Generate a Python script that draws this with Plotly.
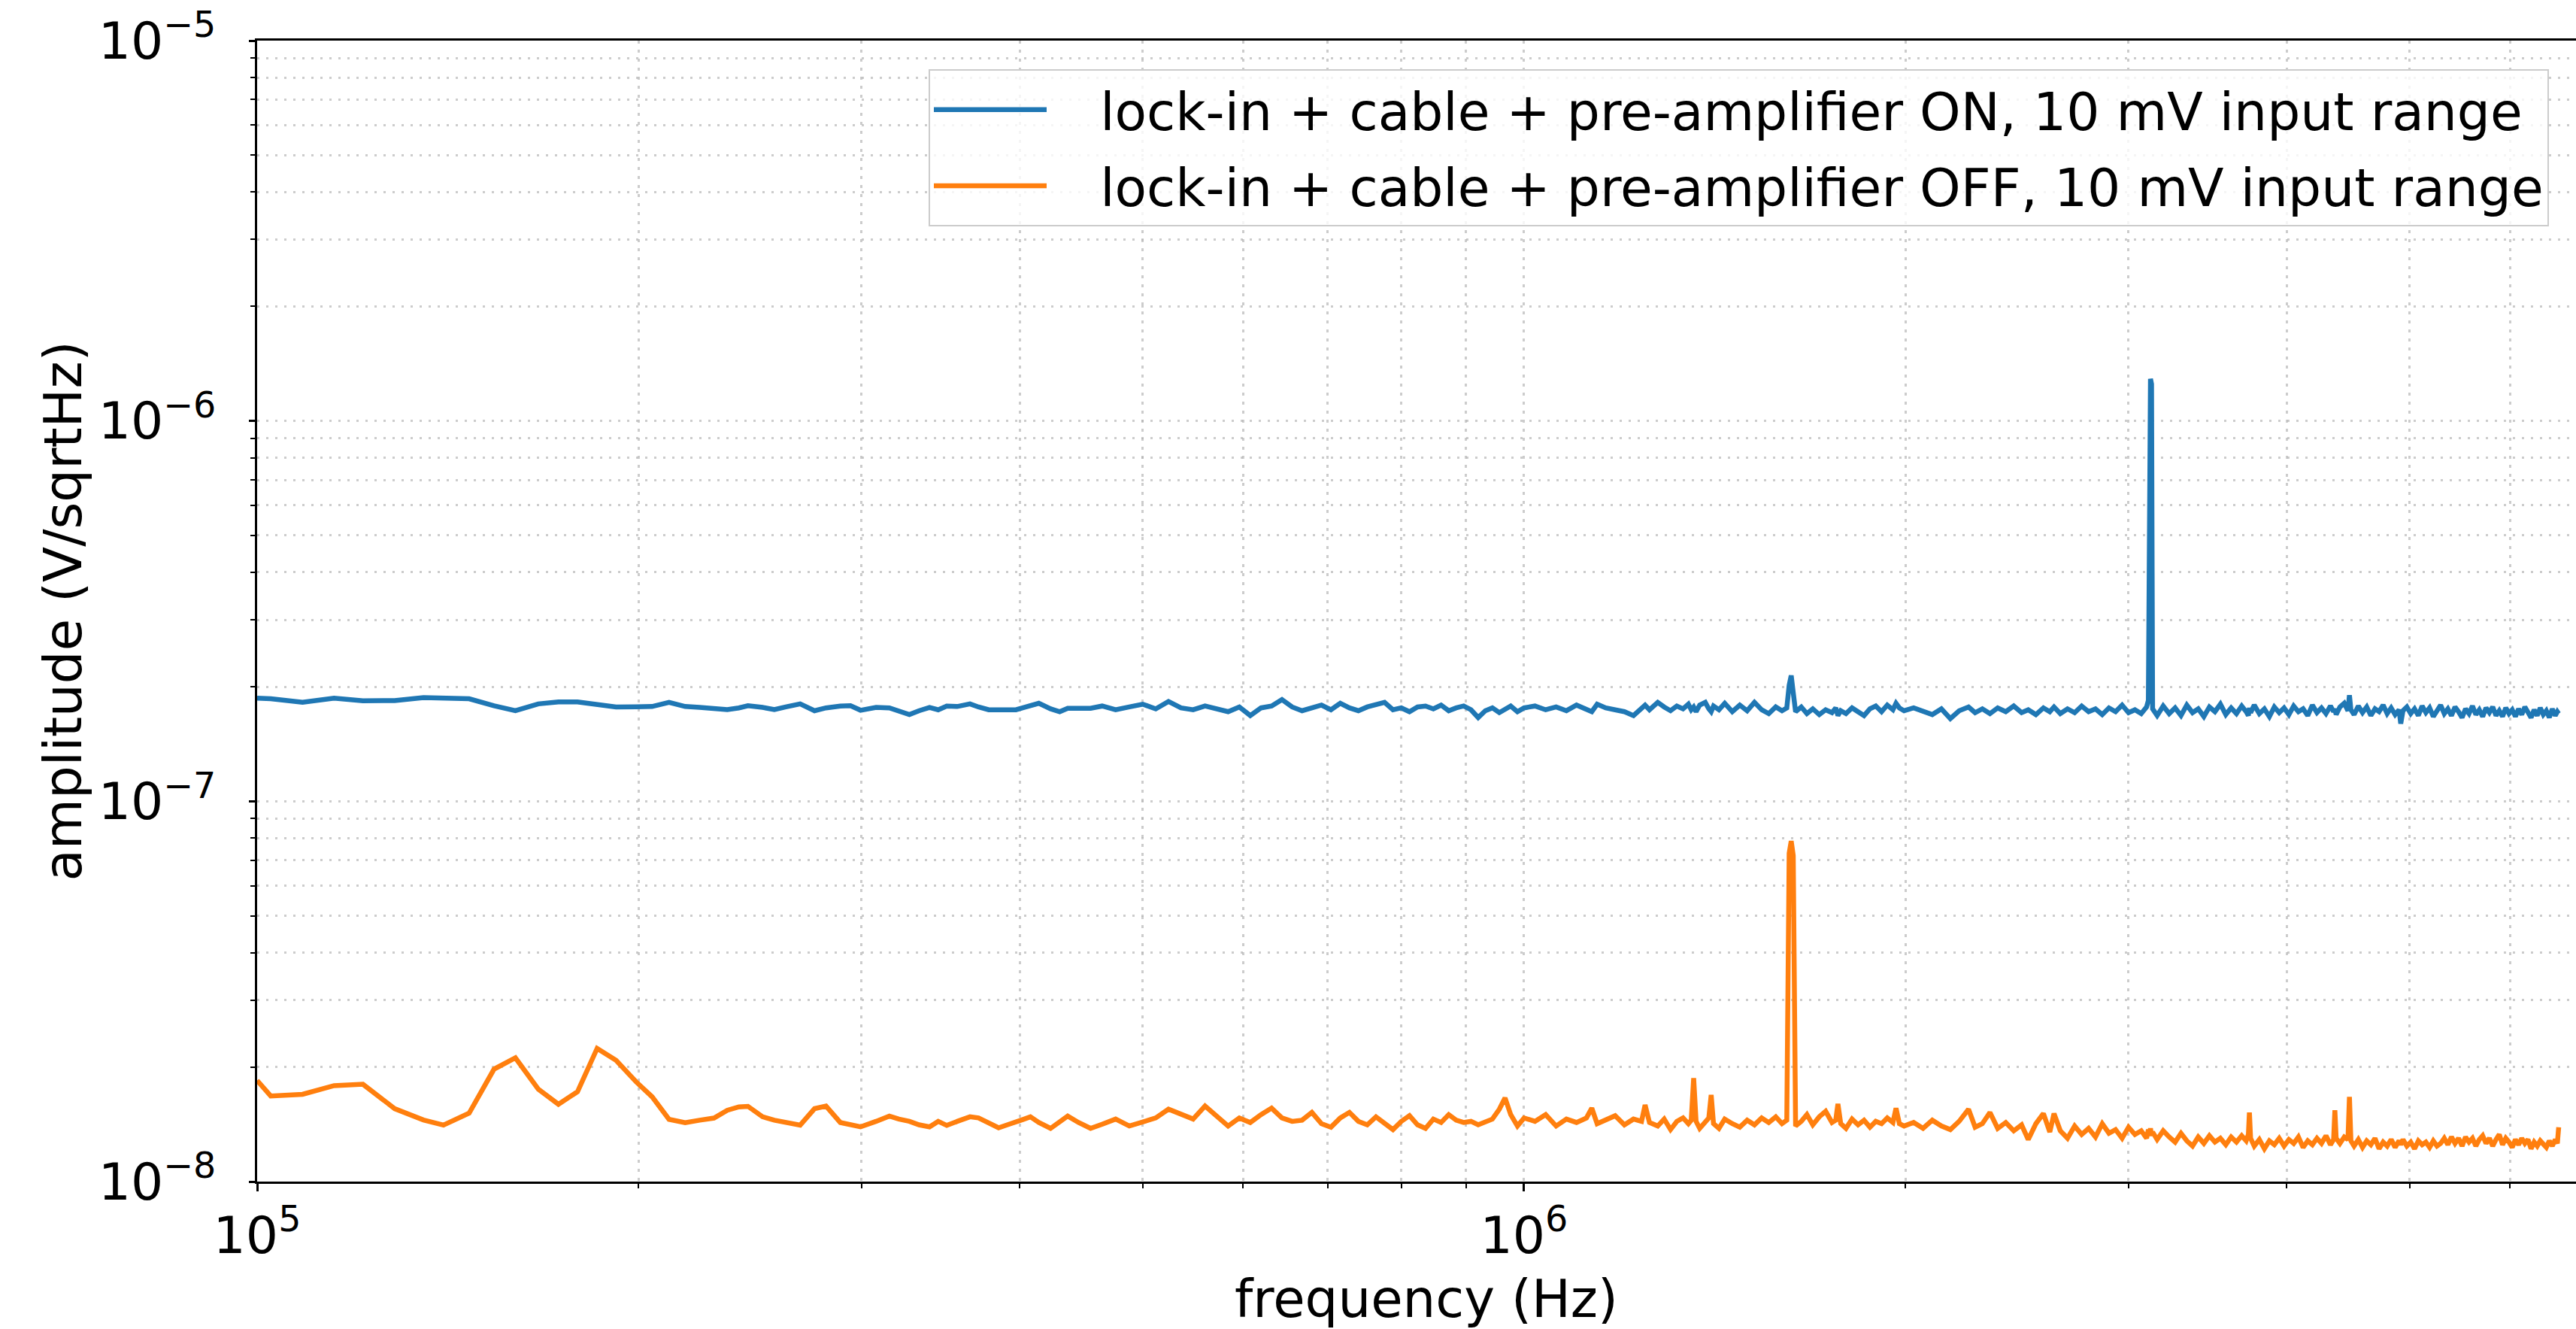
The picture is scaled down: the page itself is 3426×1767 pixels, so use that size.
import plotly.graph_objects as go

# ---------------- data (frequency in kHz, amplitude in units shown) ----------------
AMP_ON_UNIT = 1e-7   # ON series values below are in units of 1e-7 V/sqrtHz
AMP_OFF_UNIT = 1e-8  # OFF series values below are in units of 1e-8 V/sqrtHz

freq_low = [100, 102.5, 108.6, 115, 121.2, 128.4, 135.3, 140.3, 147, 153.8,
            159.9, 166.7, 172.9, 179, 185.5, 192, 199.1, 205, 211.4, 217.7,
            223.5, 229.4, 235, 240, 244, 250.6, 256, 261.4, 268.3, 275.4,
            281.2, 288.6, 294, 299.4, 308, 315.5, 321, 327.2, 333, 339.4,
            344.8, 350.2, 357, 365.3, 371, 378, 384.8, 391, 397.1, 402,
            407.7, 414, 422.9, 430, 436.3, 445, 454.8, 464.5]
on_low = [1.867, 1.86, 1.82, 1.867, 1.838, 1.84, 1.873, 1.865, 1.86, 1.783,
          1.73, 1.803, 1.824, 1.824, 1.80, 1.77, 1.772, 1.775, 1.82, 1.775,
          1.765, 1.755, 1.742, 1.76, 1.783, 1.765, 1.742, 1.77, 1.803, 1.73,
          1.76, 1.78, 1.783, 1.735, 1.765, 1.76, 1.73, 1.69, 1.73, 1.765,
          1.74, 1.78, 1.775, 1.803, 1.77, 1.74, 1.74, 1.74, 1.74, 1.76,
          1.79, 1.81, 1.75, 1.72, 1.755, 1.755, 1.755, 1.78]
off_low = [1.844, 1.679, 1.696, 1.788, 1.803, 1.555, 1.452, 1.408, 1.513, 1.975,
           2.115, 1.75, 1.597, 1.723, 2.24, 2.083, 1.83, 1.671, 1.458, 1.429,
           1.45, 1.469, 1.54, 1.572, 1.577, 1.48, 1.45, 1.43, 1.408, 1.555,
           1.58, 1.43, 1.41, 1.393, 1.44, 1.487, 1.46, 1.44, 1.41, 1.393,
           1.44, 1.405, 1.44, 1.48, 1.47, 1.42, 1.385, 1.41, 1.43, 1.455,
           1.48, 1.43, 1.38, 1.43, 1.487, 1.43, 1.38, 1.415]

freq_mid1 = [476, 488, 500, 512, 524, 536, 548, 560, 572, 584,
             596, 608, 620, 632, 644, 656, 668, 680, 692, 704,
             716, 728, 740, 752, 764, 776, 788, 800, 812, 824,
             836, 848, 860, 872, 884, 896, 908, 920, 932, 944,
             956, 966, 976, 988, 1000]
on_mid1 = [1.74, 1.77, 1.80, 1.75, 1.83, 1.76, 1.74, 1.78, 1.75, 1.72,
           1.77, 1.68, 1.76, 1.78, 1.85, 1.77, 1.73, 1.76, 1.79, 1.74,
           1.81, 1.76, 1.73, 1.77, 1.79, 1.82, 1.74, 1.76, 1.72, 1.77,
           1.78, 1.75, 1.79, 1.73, 1.76, 1.78, 1.74, 1.66, 1.73, 1.76,
           1.71, 1.75, 1.78, 1.72, 1.76]
off_mid1 = [1.46, 1.40, 1.44, 1.47, 1.55, 1.50, 1.46, 1.58, 1.48, 1.40,
            1.47, 1.43, 1.50, 1.56, 1.47, 1.44, 1.45, 1.52, 1.42, 1.39,
            1.47, 1.52, 1.44, 1.41, 1.48, 1.42, 1.37, 1.44, 1.49, 1.41,
            1.38, 1.46, 1.43, 1.50, 1.45, 1.43, 1.44, 1.41, 1.43, 1.46,
            1.55, 1.66, 1.50, 1.40, 1.47]

freq_mid2 = [1020, 1040, 1060, 1080, 1100, 1120, 1131, 1142, 1160, 1180,
             1200, 1220, 1238, 1246, 1256, 1275, 1290, 1305, 1320, 1335,
             1348, 1355, 1361, 1367, 1376, 1390, 1399, 1405, 1411, 1425,
             1440, 1460, 1480, 1500, 1520, 1540, 1560, 1580, 1598, 1612,
             1619, 1625, 1631, 1638, 1655, 1672, 1690, 1710, 1730, 1750,
             1762, 1769, 1778, 1795, 1815, 1835, 1855, 1875, 1895, 1915,
             1935, 1955, 1966, 1978, 1995]
on_mid2 = [1.78, 1.74, 1.77, 1.73, 1.79, 1.75, 1.72, 1.80, 1.76, 1.74,
           1.72, 1.68, 1.76, 1.79, 1.74, 1.82, 1.77, 1.73, 1.78, 1.75,
           1.80, 1.74, 1.77, 1.72, 1.79, 1.82, 1.75, 1.72, 1.78, 1.74,
           1.81, 1.72, 1.79, 1.73, 1.82, 1.74, 1.70, 1.77, 1.73, 1.76,
           2.02, 2.14, 1.93, 1.72, 1.77, 1.70, 1.75, 1.69, 1.74, 1.71,
           1.76, 1.68, 1.73, 1.70, 1.76, 1.72, 1.68, 1.75, 1.78, 1.72,
           1.79, 1.74, 1.81, 1.76, 1.73]
off_mid2 = [1.44, 1.50, 1.40, 1.46, 1.43, 1.47, 1.56, 1.42, 1.45, 1.49,
            1.41, 1.46, 1.44, 1.59, 1.43, 1.40, 1.46, 1.37, 1.44, 1.47,
            1.42, 1.45, 1.87, 1.44, 1.38, 1.43, 1.47, 1.69, 1.42, 1.38,
            1.46, 1.42, 1.39, 1.45, 1.41, 1.47, 1.43, 1.48, 1.42, 1.45,
            7.3, 7.86, 7.2, 1.40, 1.44, 1.50, 1.41, 1.48, 1.53, 1.43,
            1.45, 1.60, 1.42, 1.38, 1.46, 1.41, 1.45, 1.39, 1.44, 1.42,
            1.47, 1.43, 1.56, 1.42, 1.40]

freq_high = [2030, 2065, 2100, 2135, 2170, 2205, 2243, 2270, 2300, 2332,
             2365, 2400, 2435, 2470, 2500, 2535, 2570, 2600, 2620, 2650,
             2685, 2720, 2755, 2790, 2825, 2860, 2895, 2930, 2965, 3000,
             3035, 3070, 3100, 3110, 3116, 3122, 3128, 3134, 3160, 3195,
             3230, 3265, 3300, 3335, 3370, 3405, 3440, 3475, 3510, 3545,
             3580, 3615, 3650, 3685, 3715, 3730, 3737, 3745, 3770, 3805,
             3840, 3875, 3910, 3945, 3980, 4015, 4050, 4085, 4120, 4155,
             4190, 4225, 4260, 4295, 4330, 4355, 4365, 4375, 4405, 4440,
             4470, 4482, 4494, 4520, 4555, 4590, 4625, 4660, 4695, 4730,
             4765, 4800, 4835, 4870, 4905, 4920, 4940, 4975, 5010, 5045,
             5080, 5115, 5150, 5185, 5220, 5255, 5290, 5325, 5360, 5395,
             5430, 5465, 5500, 5535, 5570, 5605, 5640, 5675, 5710, 5745,
             5780, 5815, 5850, 5885, 5920, 5955, 5990, 6025, 6060, 6095,
             6130, 6165, 6200, 6235, 6270, 6305, 6340, 6375, 6410, 6445,
             6480, 6515, 6540, 6556]
on_high = [1.76, 1.72, 1.69, 1.75, 1.65, 1.73, 1.77, 1.71, 1.75, 1.70,
           1.76, 1.72, 1.78, 1.71, 1.74, 1.69, 1.76, 1.72, 1.77, 1.70,
           1.75, 1.71, 1.78, 1.72, 1.75, 1.69, 1.76, 1.72, 1.79, 1.71,
           1.74, 1.70, 1.77, 1.84, 12.6, 12.9, 12.5, 1.75, 1.68, 1.78,
           1.70, 1.76, 1.68, 1.79, 1.71, 1.75, 1.67, 1.77, 1.72, 1.80,
           1.69, 1.76, 1.70, 1.78, 1.72, 1.68, 1.76, 1.71, 1.79, 1.70,
           1.75, 1.67, 1.77, 1.71, 1.76, 1.69, 1.78, 1.72, 1.75, 1.68,
           1.79, 1.71, 1.76, 1.70, 1.78, 1.72, 1.75, 1.69, 1.77, 1.81,
           1.73, 1.90, 1.74, 1.69, 1.78, 1.71, 1.77, 1.68, 1.75, 1.72,
           1.79, 1.70, 1.76, 1.69, 1.74, 1.60, 1.73, 1.77, 1.70, 1.75,
           1.68, 1.78, 1.71, 1.76, 1.67, 1.74, 1.79, 1.70, 1.75, 1.68,
           1.77, 1.72, 1.66, 1.75, 1.70, 1.78, 1.69, 1.74, 1.67, 1.76,
           1.71, 1.77, 1.68, 1.73, 1.67, 1.76, 1.70, 1.74, 1.67, 1.75,
           1.69, 1.77, 1.70, 1.66, 1.74, 1.68, 1.76, 1.69, 1.73, 1.66,
           1.75, 1.68, 1.72, 1.70]
off_high = [1.43, 1.38, 1.45, 1.40, 1.37, 1.44, 1.55, 1.39, 1.42, 1.52,
            1.38, 1.43, 1.36, 1.41, 1.29, 1.42, 1.51, 1.35, 1.51, 1.36,
            1.30, 1.40, 1.33, 1.38, 1.31, 1.42, 1.34, 1.37, 1.30, 1.39,
            1.33, 1.36, 1.30, 1.37, 1.33, 1.38, 1.32, 1.35, 1.29, 1.36,
            1.31, 1.27, 1.34, 1.28, 1.24, 1.31, 1.26, 1.32, 1.27, 1.30,
            1.25, 1.31, 1.27, 1.32, 1.28, 1.33, 1.52, 1.30, 1.24, 1.29,
            1.22, 1.28, 1.25, 1.30, 1.24, 1.29, 1.26, 1.31, 1.23, 1.28,
            1.25, 1.30, 1.26, 1.32, 1.25, 1.29, 1.54, 1.30, 1.26, 1.31,
            1.29, 1.67, 1.28, 1.24, 1.29, 1.23, 1.28, 1.25, 1.30, 1.22,
            1.27, 1.24, 1.29, 1.23, 1.28, 1.25, 1.29, 1.24, 1.27, 1.22,
            1.28, 1.25, 1.27, 1.23, 1.28, 1.24, 1.26, 1.30, 1.25, 1.31,
            1.26, 1.30, 1.24, 1.31, 1.27, 1.30, 1.24, 1.29, 1.32, 1.26,
            1.30, 1.24, 1.29, 1.33, 1.25, 1.30, 1.27, 1.23, 1.29, 1.25,
            1.30, 1.26, 1.29, 1.22, 1.27, 1.24, 1.28, 1.25, 1.23, 1.28,
            1.24, 1.29, 1.26, 1.39]

series_names = ["lock-in + cable + pre-amplifier ON, 10 mV input range",
                "lock-in + cable + pre-amplifier OFF, 10 mV input range"]
x_title = "frequency (Hz)"
y_title = "amplitude (V/sqrtHz)"
x_major_ticks = [1e5, 1e6]
x_major_text = ["10<sup>5</sup>", "10<sup>6</sup>"]
x_minor_ticks = [2e5, 3e5, 4e5, 5e5, 6e5, 7e5, 8e5, 9e5, 2e6, 3e6, 4e6, 5e6, 6e6]
y_major_ticks = [1e-8, 1e-7, 1e-6, 1e-5]
y_major_text = ["10<sup>\u22128</sup>", "10<sup>\u22127</sup>", "10<sup>\u22126</sup>", "10<sup>\u22125</sup>"]
y_minor_ticks = [m * d for d in (1e-8, 1e-7, 1e-6) for m in (2, 3, 4, 5, 6, 7, 8, 9)]

# ---------------- assemble ----------------
freq_khz = freq_low + freq_mid1 + freq_mid2 + freq_high
on_vals = on_low + on_mid1 + on_mid2 + on_high
off_vals = off_low + off_mid1 + off_mid2 + off_high
assert len(freq_khz) == len(on_vals) == len(off_vals), (len(freq_khz), len(on_vals), len(off_vals))

freq_hz = [f * 1e3 for f in freq_khz]
amp_on = [v * AMP_ON_UNIT for v in on_vals]
amp_off = [v * AMP_OFF_UNIT for v in off_vals]

FONT = "DejaVu Sans"
W, H = 3426, 1767
ML, MT, MB, MR = 342, 54, 196, 0
PLOT_W, PLOT_H = W - ML - MR, H - MT - MB
PAD = "\u00a0\u00a0\u00a0"  # gap between legend line sample and its label

fig = go.Figure()
fig.add_trace(go.Scatter(x=freq_hz, y=amp_on, mode="lines", name=PAD + series_names[0],
                         legendgroup="on",
                         line=dict(color="#1f77b4", width=6.5)))
fig.add_trace(go.Scatter(x=freq_hz, y=amp_off, mode="lines", name=PAD + series_names[1],
                         legendgroup="off",
                         line=dict(color="#ff7f0e", width=6.5)))

grid_col = "rgba(176,176,176,0.65)"
fig.update_layout(
    width=W, height=H,
    margin=dict(l=ML, r=MR, t=MT, b=MB, pad=0, autoexpand=False),
    paper_bgcolor="white", plot_bgcolor="white",
    font=dict(family=FONT, size=68, color="black"),
    showlegend=True,
    legend=dict(
        x=(1235 - ML) / PLOT_W, y=(1571 - 92) / PLOT_H,
        xanchor="left", yanchor="top",
        bgcolor="rgba(255,255,255,0.8)", bordercolor="#cccccc", borderwidth=2,
        font=dict(family=FONT, size=69.5, color="black"),
        itemwidth=150, tracegroupgap=8,
    ),
    xaxis=dict(
        type="log", range=[5, 6.8303], automargin=False,
        showline=True, mirror=True, linecolor="black", linewidth=3,
        tickmode="array", tickvals=x_major_ticks, ticktext=x_major_text,
        ticks="outside", ticklen=10, tickwidth=3, tickcolor="black",
        tickfont=dict(family=FONT, size=68, color="black"),
        showgrid=True, gridcolor=grid_col, gridwidth=3, griddash="4px,8px",
        zeroline=False,
        minor=dict(tickmode="array", tickvals=x_minor_ticks, ticks="outside",
                   ticklen=6, tickwidth=2, tickcolor="black",
                   showgrid=True, gridcolor=grid_col, gridwidth=3, griddash="4px,8px"),
    ),
    yaxis=dict(
        type="log", range=[-8, -5], automargin=False,
        showline=True, mirror=False, linecolor="black", linewidth=3,
        tickmode="array", tickvals=y_major_ticks, ticktext=y_major_text,
        ticks="outside", ticklen=8, tickwidth=3, tickcolor="black",
        tickfont=dict(family=FONT, size=68, color="black"),
        ticklabelstandoff=30,
        showgrid=True, gridcolor=grid_col, gridwidth=3, griddash="3px,9px",
        zeroline=False,
        minor=dict(tickmode="array", tickvals=y_minor_ticks, ticks="outside",
                   ticklen=6, tickwidth=2, tickcolor="black",
                   showgrid=True, gridcolor=grid_col, gridwidth=3, griddash="3px,9px"),
        title=dict(text=y_title, font=dict(family=FONT, size=69, color="black"), standoff=0),
    ),
    annotations=[dict(
        text=x_title, xref="paper", yref="paper",
        x=(1897 - ML) / PLOT_W, y=(1571 - 1727) / PLOT_H,
        xanchor="center", yanchor="middle", showarrow=False,
        font=dict(family=FONT, size=69, color="black"),
    )],
)

fig.write_html("out.html")
